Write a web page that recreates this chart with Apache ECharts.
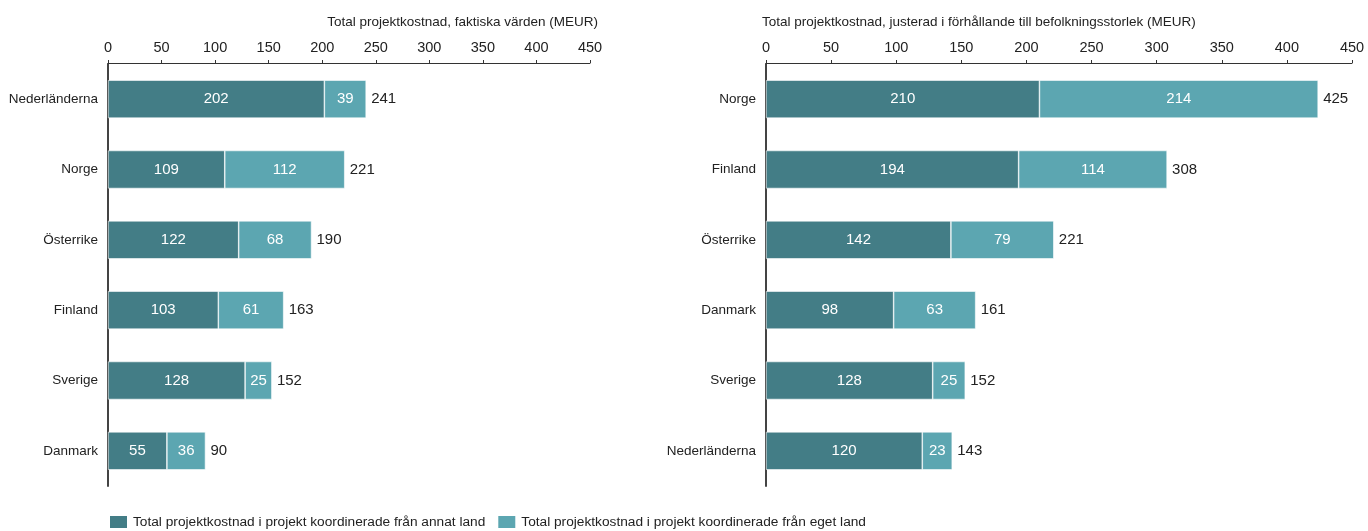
<!DOCTYPE html>
<html>
<head>
<meta charset="utf-8">
<script src="https://cdn.jsdelivr.net/npm/echarts@6/dist/echarts.min.js"></script>
<style>
  html, body { margin: 0; padding: 0; background: #fff; }
  #chart { width: 1368px; height: 531px; }
</style>
</head>
<body>
<div id="chart"></div>
<script>
// Left panel: actual project cost (MEUR)
const leftCountries = ['Nederländerna', 'Norge', 'Österrike', 'Finland', 'Sverige', 'Danmark'];
const leftForeign = [202, 109, 122, 103, 128, 55];
const leftOwn = [39, 112, 68, 61, 25, 36];
const leftTotals = [241, 221, 190, 163, 152, 90];

// Right panel: cost adjusted for population size (MEUR)
const rightCountries = ['Norge', 'Finland', 'Österrike', 'Danmark', 'Sverige', 'Nederländerna'];
const rightForeign = [210, 194, 142, 98, 128, 120];
const rightOwn = [214, 114, 79, 63, 25, 23];
const rightTotals = [425, 308, 221, 161, 152, 143];

const axisTicks = [0, 50, 100, 150, 200, 250, 300, 350, 400, 450];

const seriesNames = [
  'Total projektkostnad i projekt koordinerade från annat land',
  'Total projektkostnad i projekt koordinerade från eget land'
];
const panelTitles = [
  'Total projektkostnad, faktiska värden (MEUR)',
  'Total projektkostnad, justerad i förhållande till befolkningsstorlek (MEUR)'
];

const DARK = '#437d86';
const LIGHT = '#5ca6b1';
const TEXT = '#222';
const FONT = '"Liberation Sans", Arial, sans-serif';

const chart = echarts.init(document.getElementById('chart'), null, { renderer: 'canvas' });

function xAxis(gridIndex) {
  return {
    type: 'value', gridIndex, position: 'top', offset: 1,
    min: axisTicks[0], max: axisTicks[axisTicks.length - 1],
    interval: axisTicks[1] - axisTicks[0],
    splitLine: { show: false },
    axisLine: { show: true, lineStyle: { color: '#333', width: 1 } },
    axisTick: { show: true, length: 3, lineStyle: { color: '#333' } },
    axisLabel: { color: TEXT, fontFamily: FONT, fontSize: 14.5, margin: 8 }
  };
}
function yAxis(gridIndex, cats) {
  return {
    type: 'category', gridIndex, data: cats, inverse: true,
    axisLine: { show: true, lineStyle: { color: '#444', width: 2 } },
    axisTick: { show: false },
    axisLabel: { color: TEXT, fontFamily: FONT, fontSize: 13.5, margin: 10 }
  };
}
function bars(idx, foreign, own, totals) {
  const inside = { show: true, position: 'inside', color: '#fff', fontFamily: FONT, fontSize: 15 };
  return [
    {
      name: seriesNames[0], type: 'bar', stack: 's' + idx, xAxisIndex: idx, yAxisIndex: idx,
      data: foreign, barWidth: 38,
      itemStyle: { color: DARK, borderColor: '#fff', borderWidth: 0.6 },
      label: inside
    },
    {
      name: seriesNames[1], type: 'bar', stack: 's' + idx, xAxisIndex: idx, yAxisIndex: idx,
      data: own, barWidth: 38,
      itemStyle: { color: LIGHT, borderColor: '#fff', borderWidth: 0.6 },
      label: inside
    },
    {
      // transparent cap carrying the total label
      type: 'bar', stack: 's' + idx, xAxisIndex: idx, yAxisIndex: idx,
      data: totals.map(() => 0), barWidth: 38, silent: true,
      itemStyle: { color: 'transparent' },
      label: {
        show: true, position: 'right', distance: 5, color: TEXT, fontFamily: FONT, fontSize: 15,
        formatter: p => totals[p.dataIndex]
      }
    }
  ];
}

chart.setOption({
  animation: false,
  title: [
    { text: panelTitles[0], right: 765, top: 10,
      textStyle: { fontFamily: FONT, fontSize: 13.5, fontWeight: 'normal', color: TEXT } },
    { text: panelTitles[1], left: 757, top: 10,
      textStyle: { fontFamily: FONT, fontSize: 13.5, fontWeight: 'normal', color: TEXT } }
  ],
  grid: [
    { left: 108, right: 778, top: 64, height: 422 },
    { left: 766, right: 16, top: 64, height: 422 }
  ],
  xAxis: [xAxis(0), xAxis(1)],
  yAxis: [yAxis(0, leftCountries), yAxis(1, rightCountries)],
  legend: {
    data: seriesNames, left: 103, top: 509, itemWidth: 19, itemHeight: 14, itemGap: 11,
    icon: 'rect',
    textStyle: { fontFamily: FONT, fontSize: 13.7, color: TEXT }
  },
  series: [
    ...bars(0, leftForeign, leftOwn, leftTotals),
    ...bars(1, rightForeign, rightOwn, rightTotals)
  ]
});
</script>
</body>
</html>
